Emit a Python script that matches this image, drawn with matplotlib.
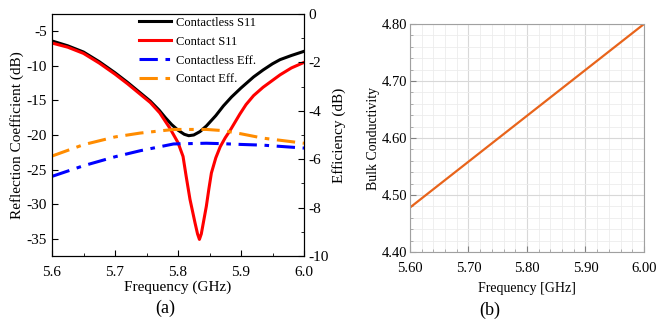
import numpy as np
import matplotlib
matplotlib.use("Agg")
import matplotlib.pyplot as plt
from matplotlib.ticker import MultipleLocator

plt.rcParams['font.family'] = ['Liberation Serif', 'DejaVu Serif']
plt.rcParams['axes.unicode_minus'] = False

# Panel (a) data
freq_s11 = [5.60, 5.625, 5.65, 5.675, 5.70, 5.72, 5.74, 5.756, 5.77, 5.78, 5.79, 5.80, 5.81, 5.817,
            5.825, 5.835, 5.845, 5.86, 5.872, 5.885, 5.90, 5.91, 5.92, 5.935, 5.95, 5.962, 5.98, 6.00]
contactless_s11 = [-6.4, -7.1, -8.0, -9.4, -11.0, -12.4, -13.9, -15.1, -16.4, -17.5, -18.5, -19.3, -19.9, -20.1,
                   -20.0, -19.5, -18.7, -17.2, -15.8, -14.5, -13.2, -12.4, -11.6, -10.6, -9.7, -9.1, -8.5, -7.9]

freq_c = [5.60, 5.625, 5.65, 5.675, 5.70, 5.72, 5.74, 5.756, 5.771, 5.787, 5.80, 5.808, 5.813, 5.819,
          5.827, 5.831, 5.834, 5.837, 5.840, 5.845, 5.849, 5.853, 5.86, 5.867, 5.875, 5.883, 5.898, 5.908,
          5.92, 5.935, 5.95, 5.962, 5.98, 6.00]
contact_s11 = [-6.7, -7.3, -8.2, -9.6, -11.2, -12.6, -14.1, -15.3, -16.8, -19.0, -21.1, -23.1, -26.0, -29.3,
               -32.7, -34.3, -35.1, -34.3, -32.8, -30.3, -27.8, -25.5, -23.3, -21.7, -20.4, -19.3, -17.0, -15.6,
               -14.3, -13.1, -12.1, -11.3, -10.3, -9.5]

freq_eff = [5.60, 5.65, 5.70, 5.74, 5.793, 5.845, 5.872, 5.90, 5.935, 6.00]
contactless_eff = [-6.71, -6.27, -5.90, -5.65, -5.37, -5.34, -5.36, -5.39, -5.42, -5.54]
contact_eff = [-5.87, -5.40, -5.08, -4.92, -4.77, -4.77, -4.82, -4.95, -5.13, -5.34]

# Panel (b) data
freq_b = [5.60, 6.00]
bulk_cond = [4.478, 4.80]

fig = plt.figure(figsize=(6.57, 3.24), dpi=100)

# ---- Panel (a)
ax = fig.add_axes([52/657, 1-256/324, (304-52)/657, (256-14)/324])
ax.plot(freq_s11, contactless_s11, color='black', lw=2.2, label='Contactless S11')
ax.plot(freq_c, contact_s11, color='red', lw=2.2, label='Contact S11')
ax.set_xlim(5.6, 6.0)
ax.set_ylim(-37.5, -2.5)
ax.set_yticks([-35, -30, -25, -20, -15, -10, -5])
ax.set_xticks([5.6, 5.7, 5.8, 5.9, 6.0])
ax.set_xticklabels(['5.6', '5.7', '5.8', '5.9', '6.0'])
ax.xaxis.set_minor_locator(MultipleLocator(0.05))
ax.tick_params(direction='in', labelsize=11, length=4)
ax.tick_params(which='minor', direction='in', length=2.5)
ax.tick_params(axis='x', pad=7)
ax.set_xlabel('Frequency (GHz)', fontsize=11, labelpad=1)
ax.set_ylabel('Reflection Coefficient (dB)', fontsize=11, labelpad=2)

ax2 = ax.twinx()
dash = (0, (6, 2.5, 1.5, 2.5))
ax2.plot(freq_eff, contactless_eff, color='blue', lw=2.2, ls=dash, label='Contactless Eff.')
ax2.plot(freq_eff, contact_eff, color='darkorange', lw=2.2, ls=dash, label='Contact Eff.')
ax2.set_ylim(-10, 0)
ax2.set_yticks([-10, -8, -6, -4, -2, 0])
ax2.yaxis.set_minor_locator(MultipleLocator(1))
ax2.tick_params(direction='in', labelsize=11, length=4)
ax2.tick_params(which='minor', direction='in', length=2.5)
ax2.set_ylabel('Efficiency (dB)', fontsize=11, labelpad=2)

h1, l1 = ax.get_legend_handles_labels()
h2, l2 = ax2.get_legend_handles_labels()
leg = ax2.legend(h1 + h2, l1 + l2, loc='upper right', bbox_to_anchor=(0.855, 1.035), frameon=False,
                 fontsize=9, handlelength=2.55, labelspacing=0.55, handletextpad=0.4)

fig.text(165/657, 1-308/324, '(a)', ha='center', va='center', fontsize=13)

# ---- Panel (b)
bx = fig.add_axes([410/657, 1-252/324, (644-410)/657, (252-24)/324])
bx.plot(freq_b, bulk_cond, color='#e8641b', lw=1.6)
bx.set_xlim(5.6, 6.0)
bx.set_ylim(4.4, 4.8)
bx.set_xticks([5.6, 5.7, 5.8, 5.9, 6.0])
bx.set_yticks([4.4, 4.5, 4.6, 4.7, 4.8])
bx.xaxis.set_minor_locator(MultipleLocator(0.02))
bx.yaxis.set_minor_locator(MultipleLocator(0.02))
bx.set_xticklabels(['5.60', '5.70', '5.80', '5.90', '6.00'])
bx.set_yticklabels(['4.40', '4.50', '4.60', '4.70', '4.80'])
bx.grid(which='major', color='#d8d8d8', lw=0.8)
bx.grid(which='minor', color='#ececec', lw=0.6)
bx.set_axisbelow(True)
for s in bx.spines.values():
    s.set_color('#a0a0a0')
bx.tick_params(direction='in', labelsize=10.5, length=4, color='#808080', pad=2)
bx.tick_params(axis='x', pad=7)
bx.tick_params(which='minor', direction='in', length=2, color='#a0a0a0')
bx.set_xlabel('Frequency [GHz]', fontsize=10, labelpad=5)
bx.set_ylabel('Bulk Conductivity', fontsize=10, labelpad=1)

fig.text(490/657, 1-310/324, '(b)', ha='center', va='center', fontsize=13)

fig.savefig('out.png', dpi=100)
